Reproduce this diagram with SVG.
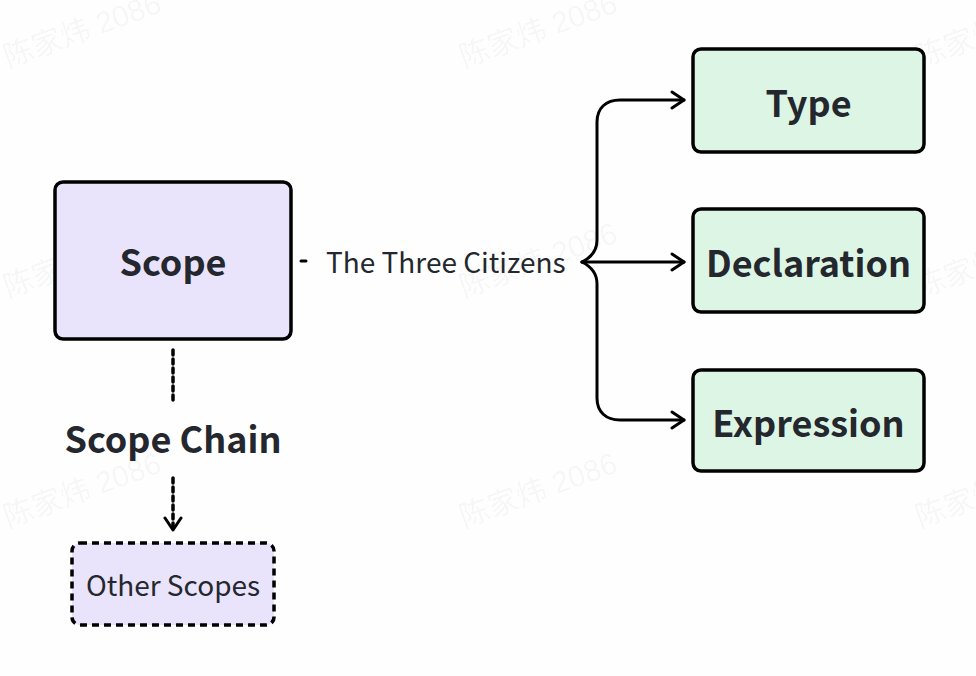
<svg xmlns="http://www.w3.org/2000/svg" width="976" height="676" viewBox="0 0 976 676">
<defs>
<style>
.wm{font-family:"Liberation Sans","Noto Sans CJK SC",sans-serif;font-size:30px;fill:#000;fill-opacity:0.045}
.box{stroke:#000;stroke-width:3.5}
.purple{fill:#e9e3fc}
.green{fill:#dcf5e4}
.big{font-family:"Noto Sans CJK SC","Noto Sans",sans-serif;font-weight:700;font-size:36px;fill:#24272d;text-anchor:middle}
.norm{font-family:"Noto Sans CJK SC","Noto Sans",sans-serif;font-size:28px;fill:#24272d}
.line{fill:none;stroke:#000;stroke-width:3;stroke-linecap:round;stroke-linejoin:round}
</style>
<marker id="arr" viewBox="0 0 20 20" refX="15" refY="10" markerWidth="20" markerHeight="20" markerUnits="userSpaceOnUse" orient="auto">
<path d="M3,2 L15,10 L3,18" fill="none" stroke="#000" stroke-width="3" stroke-linecap="round" stroke-linejoin="round"/>
</marker>
</defs>
<rect width="976" height="676" fill="#fefefe"/>
<g id="watermarks">
<text class="wm" transform="translate(8,68) rotate(-20)">陈家炜 2086</text>
<text class="wm" transform="translate(464,68) rotate(-20)">陈家炜 2086</text>
<text class="wm" transform="translate(920,68) rotate(-20)">陈家炜 2086</text>
<text class="wm" transform="translate(8,298) rotate(-20)">陈家炜 2086</text>
<text class="wm" transform="translate(464,298) rotate(-20)">陈家炜 2086</text>
<text class="wm" transform="translate(920,298) rotate(-20)">陈家炜 2086</text>
<text class="wm" transform="translate(8,528) rotate(-20)">陈家炜 2086</text>
<text class="wm" transform="translate(464,528) rotate(-20)">陈家炜 2086</text>
<text class="wm" transform="translate(920,528) rotate(-20)">陈家炜 2086</text>
</g>
<g id="connectors">
<line class="line" x1="301" y1="261" x2="306" y2="261"/>
<path class="line" d="M582,262 C590,258 597,252 597,240 L597,122 C597,108 606,100 620,100 L684,100" marker-end="url(#arr)"/>
<path class="line" d="M582,262 L684,262" marker-end="url(#arr)"/>
<path class="line" d="M582,262 C590,266 597,272 597,284 L597,398 C597,412 606,420 620,420 L684,420" marker-end="url(#arr)"/>
<line class="line" x1="173" y1="350" x2="173" y2="402" stroke-dasharray="5 4" stroke-linecap="butt" style="stroke-width:3.5"/>
<path class="line" d="M173,478 L173,530" stroke-dasharray="5 4" stroke-linecap="butt" style="stroke-width:3.5" marker-end="url(#arr)"/>
</g>
<g id="scope">
<rect class="box purple" x="55" y="182" width="236" height="157" rx="8"/>
<text class="big" x="173" y="276">Scope</text>
</g>
<g id="label-three-citizens">
<text class="norm" x="326" y="273">The Three Citizens</text>
</g>
<g id="label-scope-chain">
<text class="big" x="173" y="453">Scope Chain</text>
</g>
<g id="type">
<rect class="box green" x="693" y="49" width="231" height="103" rx="8"/>
<text class="big" x="808.5" y="117">Type</text>
</g>
<g id="declaration">
<rect class="box green" x="693" y="209" width="231" height="103" rx="8"/>
<text class="big" x="808.5" y="277">Declaration</text>
</g>
<g id="expression">
<rect class="box green" x="693" y="370" width="231" height="101" rx="8"/>
<text class="big" x="808.5" y="437">Expression</text>
</g>
<g id="other-scopes">
<rect class="box purple" x="72" y="543" width="202" height="82" rx="8" stroke-dasharray="7 5"/>
<text class="norm" x="173" y="596" text-anchor="middle">Other Scopes</text>
</g>
</svg>
